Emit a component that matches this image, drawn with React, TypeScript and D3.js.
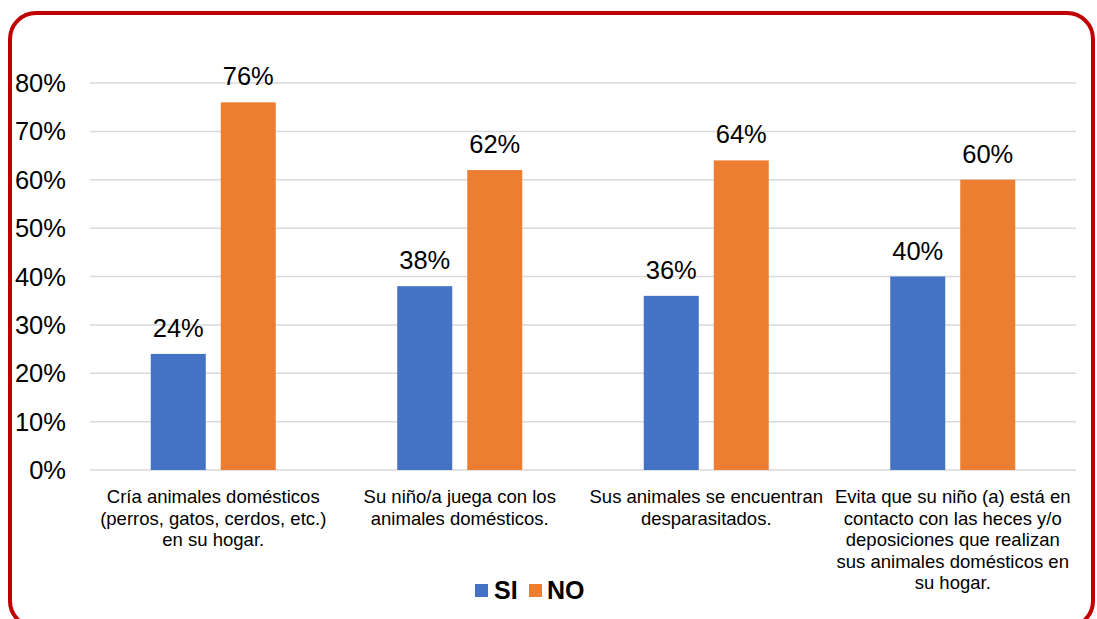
import React from "react";
import * as d3 from "d3";

const categories: string[][] = [
  ["Cría animales domésticos", "(perros, gatos, cerdos, etc.)", "en su hogar."],
  ["Su niño/a juega con los", "animales domésticos."],
  ["Sus animales se encuentran", "desparasitados."],
  ["Evita que su niño (a) está en", "contacto con las heces y/o", "deposiciones que realizan", "sus animales domésticos en", "su hogar."],
];
const siValues = [24, 38, 36, 40];
const noValues = [76, 62, 64, 60];
const yTicks = [0, 10, 20, 30, 40, 50, 60, 70, 80];
const seriesNames = ["SI", "NO"];
const colors = ["#4472C4", "#ED7D31"];

export default function App() {
  const W = 1097, H = 619;
  const left = 90, right = 1076, top = 83, bottom = 470;
  const font = "'Liberation Sans', Arial, sans-serif";
  const x0 = d3.scaleBand<number>().domain(d3.range(categories.length)).range([left, right]);
  const y = d3.scaleLinear().domain([0, 80]).range([bottom, top]);
  const barW = 55, gap = 15;
  const series = [siValues, noValues];

  return (
    <svg width={W} height={H} style={{ position: "absolute", left: 0, top: 0, background: "#fff" }} fontFamily={font}>
      <rect x={10} y={13} width={1083} height={614} rx={26} ry={26} fill="#fff" stroke="#C00000" strokeWidth={4} />
      {yTicks.map((t) => (
        <g key={t}>
          <line x1={left} x2={right} y1={y(t)} y2={y(t)} stroke="#D9D9D9" strokeWidth={1.5} />
          <text x={66} y={y(t) + 9} textAnchor="end" fontSize={25.5} fill="#000">{t}%</text>
        </g>
      ))}
      {categories.map((c, i) => {
        const cx = (x0(i) as number) + x0.bandwidth() / 2;
        return (
          <g key={i}>
            {series.map((vals, s) => {
              const bx = s === 0 ? cx - gap / 2 - barW : cx + gap / 2;
              return (
                <g key={s}>
                  <rect x={bx} y={y(vals[i])} width={barW} height={bottom - y(vals[i])} fill={colors[s]} />
                  <text x={bx + barW / 2} y={y(vals[i]) - 17} textAnchor="middle" fontSize={25.5} fill="#000">{vals[i]}%</text>
                </g>
              );
            })}
            {c.map((line, k) => (
              <text key={k} x={cx} y={503 + k * 21.5} textAnchor="middle" fontSize={18.5} fill="#000">{line}</text>
            ))}
          </g>
        );
      })}
      <g>
        <rect x={475} y={584} width={13} height={13} fill={colors[0]} />
        <text x={494} y={599} fontSize={25} fontWeight="bold" fill="#000">{seriesNames[0]}</text>
        <rect x={529} y={584} width={13} height={13} fill={colors[1]} />
        <text x={547} y={599} fontSize={25} fontWeight="bold" fill="#000">{seriesNames[1]}</text>
      </g>
    </svg>
  );
}
